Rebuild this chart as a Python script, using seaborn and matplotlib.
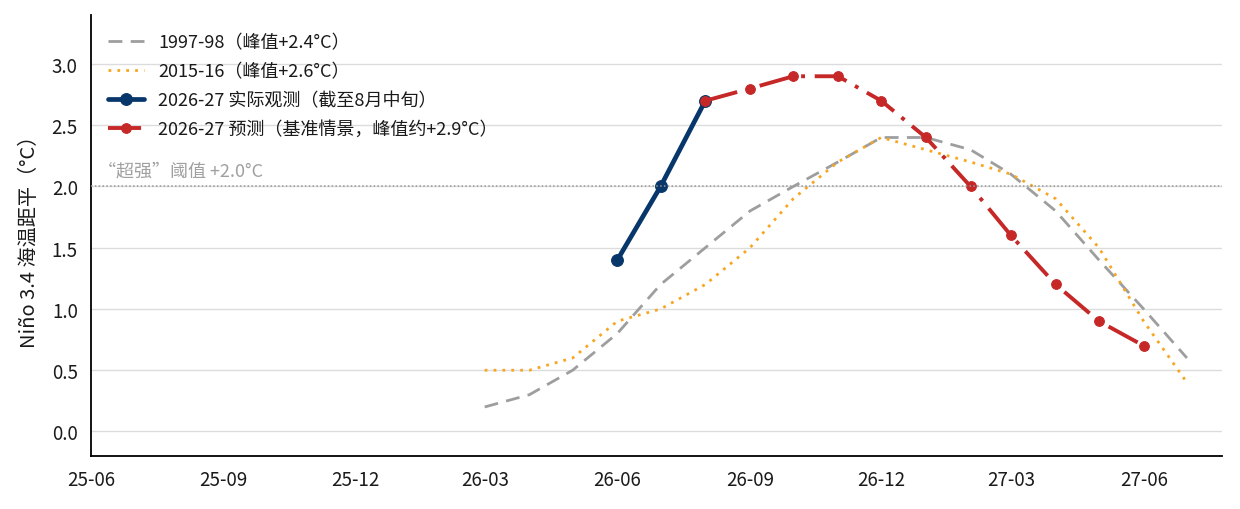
import matplotlib
matplotlib.use("Agg")
import matplotlib.pyplot as plt
import matplotlib.dates as mdates
import numpy as np
import pandas as pd
import seaborn as sns

# ---- data ----
months_hist = pd.date_range("2026-03-01", "2027-07-01", freq="MS")
y_1997 = [0.2, 0.3, 0.5, 0.8, 1.2, 1.5, 1.8, 2.0, 2.2, 2.4, 2.4, 2.3, 2.1, 1.8, 1.4, 1.0, 0.6]
y_2015 = [0.5, 0.5, 0.6, 0.9, 1.0, 1.2, 1.5, 1.9, 2.2, 2.4, 2.3, 2.2, 2.1, 1.9, 1.5, 0.9, 0.4]

months_obs = pd.date_range("2026-06-01", "2026-08-01", freq="MS")
y_obs = [1.4, 2.0, 2.7]

months_fc = pd.date_range("2026-08-01", "2027-06-01", freq="MS")
y_fc = [2.7, 2.8, 2.9, 2.9, 2.7, 2.4, 2.0, 1.6, 1.2, 0.9, 0.7]

threshold = 2.0
labels = ["1997-98（峰值+2.4°C）", "2015-16（峰值+2.6°C）",
          "2026-27 实际观测（截至8月中旬）", "2026-27 预测（基准情景，峰值约+2.9°C）"]
thr_label = "“超强”阈值 +2.0°C"
ylabel = "Niño 3.4 海温距平（°C）"

# ---- style ----
sns.set_style("white")
plt.rcParams["font.family"] = ["Noto Sans CJK SC", "DejaVu Sans"]
plt.rcParams["axes.unicode_minus"] = False

fig = plt.figure(figsize=(12.4, 5.1), dpi=100)
ax = fig.add_axes([0.0734, 0.104, 0.9121, 0.8646])

c_grey = "#9e9e9e"
c_orange = "#f6a623"
c_navy = "#06366a"
c_red = "#c62828"

sns.lineplot(x=months_hist, y=y_1997, ax=ax, color=c_grey, lw=2.0,
             linestyle=(0, (5, 3)), label=labels[0], zorder=2)
sns.lineplot(x=months_hist, y=y_2015, ax=ax, color=c_orange, lw=2.0,
             linestyle=(0, (1, 2.2)), label=labels[1], zorder=2)
sns.lineplot(x=months_obs, y=y_obs, ax=ax, color=c_navy, lw=3.4,
             marker="o", markersize=8.5, markeredgecolor=c_navy,
             label=labels[2], zorder=4)
sns.lineplot(x=months_fc, y=y_fc, ax=ax, color=c_red, lw=2.8,
             linestyle=(0, (8.5, 2.5, 1, 2.5)), marker="o", markersize=7,
             markeredgecolor=c_red, label=labels[3], zorder=5)

ax.axhline(threshold, color="#999999", lw=1.1, linestyle=(0, (1, 1.5)), zorder=6)
ax.text(pd.Timestamp("2025-06-06"), threshold + 0.06, thr_label,
        color="#a0a0a0", fontsize=13, ha="left", va="bottom")

ax.set_ylim(-0.2, 3.4)
ax.set_yticks(np.arange(0, 3.01, 0.5))
ax.yaxis.set_major_formatter(matplotlib.ticker.FormatStrFormatter("%.1f"))
ax.set_xlim(left=pd.Timestamp("2025-06-01"))
ax.xaxis.set_major_locator(mdates.MonthLocator(bymonth=[3, 6, 9, 12]))
ax.xaxis.set_major_formatter(mdates.DateFormatter("%y-%m"))

ax.grid(axis="y", color="#dcdcdc", lw=1.0, zorder=0)
ax.set_axisbelow(True)
for s in ["top", "right"]:
    ax.spines[s].set_visible(False)
for s in ["left", "bottom"]:
    ax.spines[s].set_color("black")
    ax.spines[s].set_linewidth(1.3)
ax.tick_params(axis="both", direction="out", length=6, width=1.2,
               color="black", labelsize=13.5, labelcolor="#1a1a1a")
ax.set_xlabel("")
ax.set_ylabel(ylabel, fontsize=14.5, color="#1a1a1a", labelpad=8)

leg = ax.legend(loc="upper left", frameon=False, fontsize=13,
                bbox_to_anchor=(0.0005, 0.995), handlelength=2.0,
                labelspacing=0.6, labelcolor="#1a1a1a")

fig.savefig("out.png", dpi=100)
